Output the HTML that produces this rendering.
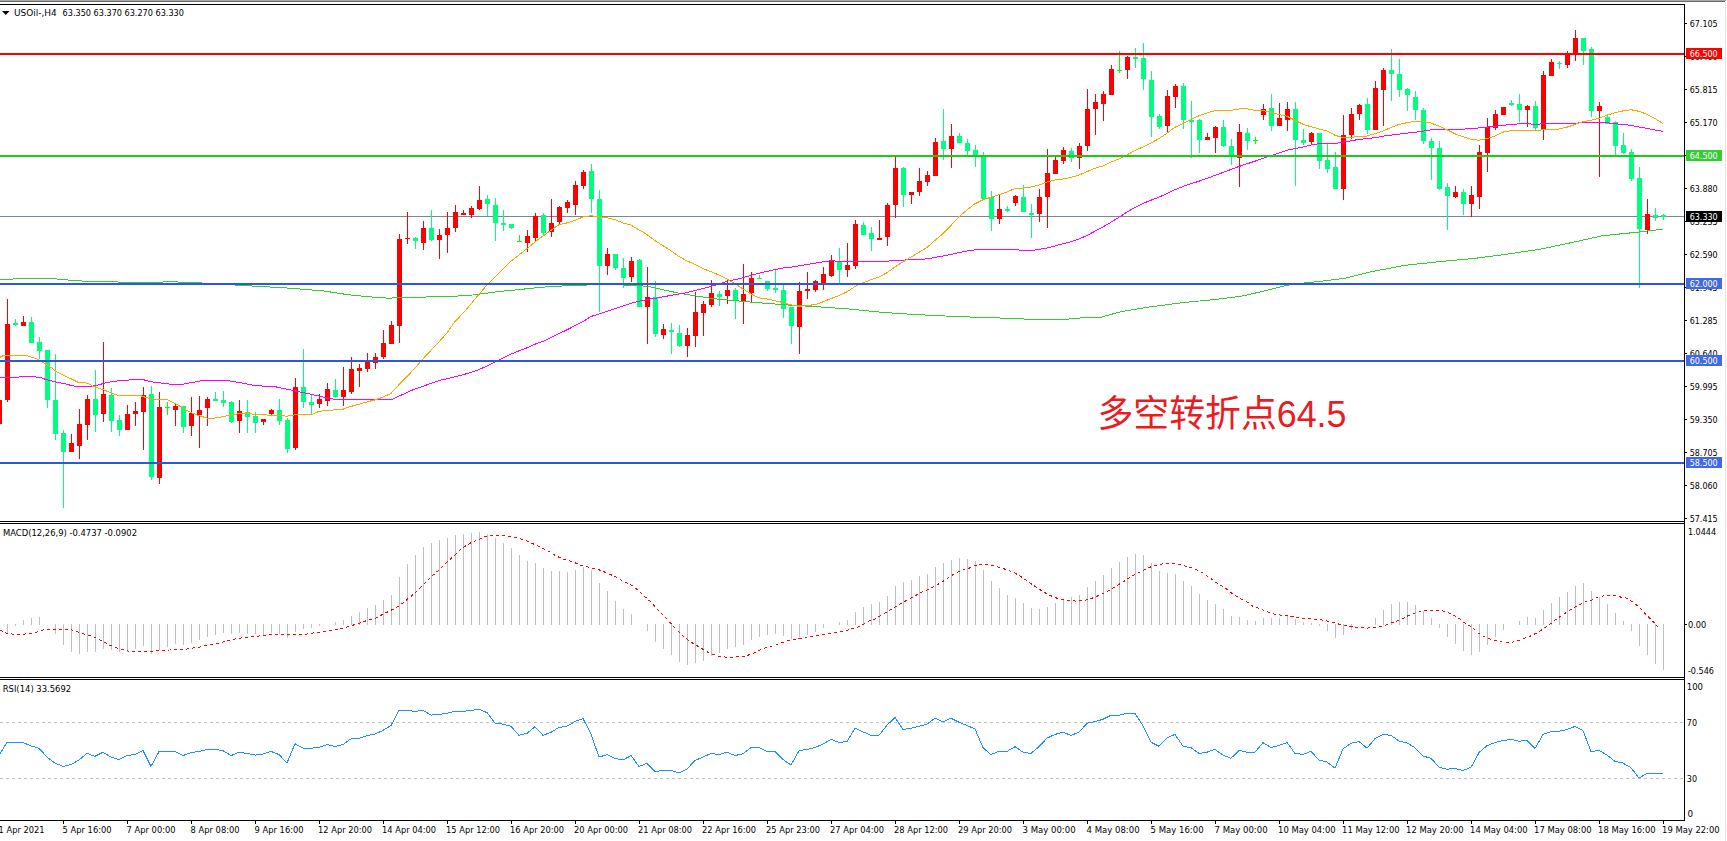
<!DOCTYPE html>
<html><head><meta charset="utf-8"><title>USOil H4</title>
<style>html,body{margin:0;padding:0;background:#fff;overflow:hidden}svg{display:block}</style>
</head><body>
<svg width="1727" height="841" viewBox="0 0 1727 841">
<rect width="1727" height="841" fill="#ffffff"/>
<rect x="0" y="0" width="1726" height="1" fill="#a8a8a8"/>
<rect x="0" y="1" width="1725" height="1" fill="#696969"/>
<rect x="1725" y="2" width="1" height="839" fill="#e3e3e3"/>
<g shape-rendering="crispEdges">
<rect x="0" y="216" width="1684" height="1" fill="#778899"/>
<rect x="-1" y="395" width="1" height="33" fill="#ff0000"/>
<rect x="-3" y="400" width="5" height="24" fill="#ff0000"/>
<rect x="7" y="299" width="1" height="103" fill="#ff0000"/>
<rect x="5" y="324" width="5" height="76" fill="#ff0000"/>
<rect x="15" y="319" width="1" height="7" fill="#00ff7f"/>
<rect x="13" y="323" width="5" height="2" fill="#00ff7f"/>
<rect x="23" y="316" width="1" height="10" fill="#ff0000"/>
<rect x="21" y="322" width="5" height="4" fill="#ff0000"/>
<rect x="31" y="317" width="1" height="26" fill="#00ff7f"/>
<rect x="29" y="322" width="5" height="21" fill="#00ff7f"/>
<rect x="39" y="337" width="1" height="22" fill="#00ff7f"/>
<rect x="37" y="342" width="5" height="9" fill="#00ff7f"/>
<rect x="47" y="350" width="1" height="58" fill="#00ff7f"/>
<rect x="45" y="350" width="5" height="50" fill="#00ff7f"/>
<rect x="55" y="354" width="1" height="86" fill="#00ff7f"/>
<rect x="53" y="400" width="5" height="34" fill="#00ff7f"/>
<rect x="63" y="430" width="1" height="78" fill="#00ff7f"/>
<rect x="61" y="433" width="5" height="19" fill="#00ff7f"/>
<rect x="71" y="434" width="1" height="18" fill="#ff0000"/>
<rect x="69" y="443" width="5" height="9" fill="#ff0000"/>
<rect x="79" y="409" width="1" height="50" fill="#ff0000"/>
<rect x="77" y="424" width="5" height="22" fill="#ff0000"/>
<rect x="87" y="395" width="1" height="45" fill="#ff0000"/>
<rect x="85" y="399" width="5" height="26" fill="#ff0000"/>
<rect x="95" y="370" width="1" height="62" fill="#00ff7f"/>
<rect x="93" y="399" width="5" height="16" fill="#00ff7f"/>
<rect x="103" y="342" width="1" height="80" fill="#ff0000"/>
<rect x="101" y="394" width="5" height="20" fill="#ff0000"/>
<rect x="111" y="388" width="1" height="44" fill="#00ff7f"/>
<rect x="109" y="395" width="5" height="26" fill="#00ff7f"/>
<rect x="119" y="415" width="1" height="21" fill="#00ff7f"/>
<rect x="117" y="420" width="5" height="10" fill="#00ff7f"/>
<rect x="127" y="405" width="1" height="25" fill="#ff0000"/>
<rect x="125" y="414" width="5" height="16" fill="#ff0000"/>
<rect x="135" y="402" width="1" height="24" fill="#ff0000"/>
<rect x="133" y="411" width="5" height="3" fill="#ff0000"/>
<rect x="143" y="387" width="1" height="63" fill="#ff0000"/>
<rect x="141" y="395" width="5" height="17" fill="#ff0000"/>
<rect x="151" y="386" width="1" height="94" fill="#00ff7f"/>
<rect x="149" y="394" width="5" height="83" fill="#00ff7f"/>
<rect x="159" y="392" width="1" height="92" fill="#ff0000"/>
<rect x="157" y="407" width="5" height="71" fill="#ff0000"/>
<rect x="167" y="402" width="1" height="13" fill="#00ff00"/>
<rect x="165" y="407" width="5" height="1" fill="#00ff00"/>
<rect x="175" y="404" width="1" height="22" fill="#ff0000"/>
<rect x="173" y="406" width="5" height="4" fill="#ff0000"/>
<rect x="183" y="406" width="1" height="27" fill="#00ff7f"/>
<rect x="181" y="406" width="5" height="21" fill="#00ff7f"/>
<rect x="191" y="397" width="1" height="39" fill="#ff0000"/>
<rect x="189" y="413" width="5" height="13" fill="#ff0000"/>
<rect x="199" y="396" width="1" height="52" fill="#ff0000"/>
<rect x="197" y="410" width="5" height="5" fill="#ff0000"/>
<rect x="207" y="397" width="1" height="29" fill="#ff0000"/>
<rect x="205" y="399" width="5" height="9" fill="#ff0000"/>
<rect x="215" y="392" width="1" height="9" fill="#00ff7f"/>
<rect x="213" y="399" width="5" height="2" fill="#00ff7f"/>
<rect x="223" y="391" width="1" height="16" fill="#00ff7f"/>
<rect x="221" y="400" width="5" height="3" fill="#00ff7f"/>
<rect x="231" y="401" width="1" height="22" fill="#00ff7f"/>
<rect x="229" y="402" width="5" height="20" fill="#00ff7f"/>
<rect x="239" y="400" width="1" height="33" fill="#ff0000"/>
<rect x="237" y="411" width="5" height="10" fill="#ff0000"/>
<rect x="247" y="400" width="1" height="33" fill="#00ff7f"/>
<rect x="245" y="412" width="5" height="5" fill="#00ff7f"/>
<rect x="255" y="412" width="1" height="21" fill="#00ff7f"/>
<rect x="253" y="416" width="5" height="7" fill="#00ff7f"/>
<rect x="263" y="419" width="1" height="6" fill="#ff0000"/>
<rect x="261" y="419" width="5" height="3" fill="#ff0000"/>
<rect x="271" y="409" width="1" height="6" fill="#ff0000"/>
<rect x="269" y="410" width="5" height="4" fill="#ff0000"/>
<rect x="279" y="399" width="1" height="26" fill="#00ff7f"/>
<rect x="277" y="410" width="5" height="11" fill="#00ff7f"/>
<rect x="287" y="418" width="1" height="35" fill="#00ff7f"/>
<rect x="285" y="420" width="5" height="29" fill="#00ff7f"/>
<rect x="295" y="378" width="1" height="72" fill="#ff0000"/>
<rect x="293" y="387" width="5" height="61" fill="#ff0000"/>
<rect x="303" y="349" width="1" height="59" fill="#00ff7f"/>
<rect x="301" y="387" width="5" height="15" fill="#00ff7f"/>
<rect x="311" y="395" width="1" height="19" fill="#00ff7f"/>
<rect x="309" y="402" width="5" height="3" fill="#00ff7f"/>
<rect x="319" y="394" width="1" height="14" fill="#ff0000"/>
<rect x="317" y="399" width="5" height="5" fill="#ff0000"/>
<rect x="327" y="383" width="1" height="23" fill="#ff0000"/>
<rect x="325" y="389" width="5" height="12" fill="#ff0000"/>
<rect x="335" y="379" width="1" height="19" fill="#00ff7f"/>
<rect x="333" y="390" width="5" height="7" fill="#00ff7f"/>
<rect x="343" y="367" width="1" height="39" fill="#ff0000"/>
<rect x="341" y="390" width="5" height="7" fill="#ff0000"/>
<rect x="351" y="357" width="1" height="37" fill="#ff0000"/>
<rect x="349" y="369" width="5" height="23" fill="#ff0000"/>
<rect x="359" y="364" width="1" height="23" fill="#ff0000"/>
<rect x="357" y="368" width="5" height="3" fill="#ff0000"/>
<rect x="367" y="353" width="1" height="19" fill="#ff0000"/>
<rect x="365" y="360" width="5" height="9" fill="#ff0000"/>
<rect x="375" y="353" width="1" height="16" fill="#ff0000"/>
<rect x="373" y="357" width="5" height="6" fill="#ff0000"/>
<rect x="383" y="330" width="1" height="29" fill="#ff0000"/>
<rect x="381" y="343" width="5" height="14" fill="#ff0000"/>
<rect x="391" y="321" width="1" height="23" fill="#ff0000"/>
<rect x="389" y="325" width="5" height="19" fill="#ff0000"/>
<rect x="399" y="234" width="1" height="109" fill="#ff0000"/>
<rect x="397" y="239" width="5" height="87" fill="#ff0000"/>
<rect x="407" y="212" width="1" height="32" fill="#ff0000"/>
<rect x="405" y="238" width="5" height="1" fill="#ff0000"/>
<rect x="415" y="237" width="1" height="12" fill="#00ff7f"/>
<rect x="413" y="238" width="5" height="3" fill="#00ff7f"/>
<rect x="423" y="221" width="1" height="29" fill="#ff0000"/>
<rect x="421" y="228" width="5" height="15" fill="#ff0000"/>
<rect x="431" y="210" width="1" height="31" fill="#00ff7f"/>
<rect x="429" y="228" width="5" height="12" fill="#00ff7f"/>
<rect x="439" y="229" width="1" height="30" fill="#ff0000"/>
<rect x="437" y="235" width="5" height="5" fill="#ff0000"/>
<rect x="447" y="212" width="1" height="41" fill="#ff0000"/>
<rect x="445" y="228" width="5" height="7" fill="#ff0000"/>
<rect x="455" y="205" width="1" height="27" fill="#ff0000"/>
<rect x="453" y="212" width="5" height="16" fill="#ff0000"/>
<rect x="463" y="210" width="1" height="5" fill="#ff0000"/>
<rect x="461" y="213" width="5" height="2" fill="#ff0000"/>
<rect x="471" y="206" width="1" height="12" fill="#ff0000"/>
<rect x="469" y="208" width="5" height="7" fill="#ff0000"/>
<rect x="479" y="186" width="1" height="24" fill="#ff0000"/>
<rect x="477" y="200" width="5" height="9" fill="#ff0000"/>
<rect x="487" y="195" width="1" height="21" fill="#00ff7f"/>
<rect x="485" y="199" width="5" height="5" fill="#00ff7f"/>
<rect x="495" y="198" width="1" height="43" fill="#00ff7f"/>
<rect x="493" y="205" width="5" height="18" fill="#00ff7f"/>
<rect x="503" y="210" width="1" height="21" fill="#00ff7f"/>
<rect x="501" y="223" width="5" height="2" fill="#00ff7f"/>
<rect x="511" y="224" width="1" height="5" fill="#00ff7f"/>
<rect x="509" y="224" width="5" height="4" fill="#00ff7f"/>
<rect x="519" y="235" width="1" height="7" fill="#00ff00"/>
<rect x="517" y="241" width="5" height="1" fill="#00ff00"/>
<rect x="527" y="230" width="1" height="22" fill="#ff0000"/>
<rect x="525" y="236" width="5" height="7" fill="#ff0000"/>
<rect x="535" y="213" width="1" height="29" fill="#ff0000"/>
<rect x="533" y="216" width="5" height="22" fill="#ff0000"/>
<rect x="543" y="213" width="1" height="23" fill="#00ff7f"/>
<rect x="541" y="215" width="5" height="18" fill="#00ff7f"/>
<rect x="551" y="199" width="1" height="38" fill="#ff0000"/>
<rect x="549" y="223" width="5" height="9" fill="#ff0000"/>
<rect x="559" y="206" width="1" height="18" fill="#ff0000"/>
<rect x="557" y="207" width="5" height="15" fill="#ff0000"/>
<rect x="567" y="200" width="1" height="13" fill="#ff0000"/>
<rect x="565" y="202" width="5" height="6" fill="#ff0000"/>
<rect x="575" y="181" width="1" height="34" fill="#ff0000"/>
<rect x="573" y="185" width="5" height="20" fill="#ff0000"/>
<rect x="583" y="170" width="1" height="19" fill="#ff0000"/>
<rect x="581" y="172" width="5" height="14" fill="#ff0000"/>
<rect x="591" y="164" width="1" height="49" fill="#00ff7f"/>
<rect x="589" y="171" width="5" height="28" fill="#00ff7f"/>
<rect x="599" y="190" width="1" height="122" fill="#00ff7f"/>
<rect x="597" y="199" width="5" height="67" fill="#00ff7f"/>
<rect x="607" y="248" width="1" height="27" fill="#ff0000"/>
<rect x="605" y="254" width="5" height="12" fill="#ff0000"/>
<rect x="615" y="254" width="1" height="16" fill="#00ff7f"/>
<rect x="613" y="254" width="5" height="14" fill="#00ff7f"/>
<rect x="623" y="258" width="1" height="30" fill="#00ff7f"/>
<rect x="621" y="268" width="5" height="10" fill="#00ff7f"/>
<rect x="631" y="257" width="1" height="25" fill="#ff0000"/>
<rect x="629" y="261" width="5" height="16" fill="#ff0000"/>
<rect x="639" y="259" width="1" height="48" fill="#00ff7f"/>
<rect x="637" y="260" width="5" height="47" fill="#00ff7f"/>
<rect x="647" y="267" width="1" height="77" fill="#ff0000"/>
<rect x="645" y="297" width="5" height="10" fill="#ff0000"/>
<rect x="655" y="281" width="1" height="56" fill="#00ff7f"/>
<rect x="653" y="297" width="5" height="37" fill="#00ff7f"/>
<rect x="663" y="324" width="1" height="15" fill="#ff0000"/>
<rect x="661" y="329" width="5" height="6" fill="#ff0000"/>
<rect x="671" y="323" width="1" height="31" fill="#00ff7f"/>
<rect x="669" y="330" width="5" height="2" fill="#00ff7f"/>
<rect x="679" y="325" width="1" height="22" fill="#00ff7f"/>
<rect x="677" y="333" width="5" height="13" fill="#00ff7f"/>
<rect x="687" y="328" width="1" height="29" fill="#ff0000"/>
<rect x="685" y="335" width="5" height="11" fill="#ff0000"/>
<rect x="695" y="292" width="1" height="55" fill="#ff0000"/>
<rect x="693" y="312" width="5" height="24" fill="#ff0000"/>
<rect x="703" y="301" width="1" height="35" fill="#ff0000"/>
<rect x="701" y="304" width="5" height="9" fill="#ff0000"/>
<rect x="711" y="280" width="1" height="27" fill="#ff0000"/>
<rect x="709" y="293" width="5" height="12" fill="#ff0000"/>
<rect x="719" y="291" width="1" height="15" fill="#00ff7f"/>
<rect x="717" y="294" width="5" height="3" fill="#00ff7f"/>
<rect x="727" y="280" width="1" height="24" fill="#ff0000"/>
<rect x="725" y="290" width="5" height="6" fill="#ff0000"/>
<rect x="735" y="288" width="1" height="31" fill="#00ff7f"/>
<rect x="733" y="290" width="5" height="10" fill="#00ff7f"/>
<rect x="743" y="264" width="1" height="60" fill="#ff0000"/>
<rect x="741" y="294" width="5" height="7" fill="#ff0000"/>
<rect x="751" y="272" width="1" height="30" fill="#ff0000"/>
<rect x="749" y="278" width="5" height="15" fill="#ff0000"/>
<rect x="759" y="275" width="1" height="4" fill="#00ff7f"/>
<rect x="757" y="278" width="5" height="1" fill="#00ff7f"/>
<rect x="767" y="281" width="1" height="10" fill="#00ff7f"/>
<rect x="765" y="281" width="5" height="8" fill="#00ff7f"/>
<rect x="775" y="270" width="1" height="23" fill="#00ff7f"/>
<rect x="773" y="288" width="5" height="2" fill="#00ff7f"/>
<rect x="783" y="285" width="1" height="33" fill="#00ff7f"/>
<rect x="781" y="290" width="5" height="19" fill="#00ff7f"/>
<rect x="791" y="307" width="1" height="37" fill="#00ff7f"/>
<rect x="789" y="307" width="5" height="19" fill="#00ff7f"/>
<rect x="799" y="282" width="1" height="72" fill="#ff0000"/>
<rect x="797" y="291" width="5" height="36" fill="#ff0000"/>
<rect x="807" y="272" width="1" height="27" fill="#ff0000"/>
<rect x="805" y="289" width="5" height="2" fill="#ff0000"/>
<rect x="815" y="280" width="1" height="12" fill="#ff0000"/>
<rect x="813" y="281" width="5" height="9" fill="#ff0000"/>
<rect x="823" y="267" width="1" height="23" fill="#ff0000"/>
<rect x="821" y="274" width="5" height="9" fill="#ff0000"/>
<rect x="831" y="255" width="1" height="22" fill="#ff0000"/>
<rect x="829" y="261" width="5" height="15" fill="#ff0000"/>
<rect x="839" y="248" width="1" height="35" fill="#00ff7f"/>
<rect x="837" y="261" width="5" height="9" fill="#00ff7f"/>
<rect x="847" y="243" width="1" height="34" fill="#ff0000"/>
<rect x="845" y="265" width="5" height="5" fill="#ff0000"/>
<rect x="855" y="220" width="1" height="49" fill="#ff0000"/>
<rect x="853" y="224" width="5" height="42" fill="#ff0000"/>
<rect x="863" y="222" width="1" height="13" fill="#00ff7f"/>
<rect x="861" y="225" width="5" height="10" fill="#00ff7f"/>
<rect x="871" y="227" width="1" height="24" fill="#00ff7f"/>
<rect x="869" y="233" width="5" height="6" fill="#00ff7f"/>
<rect x="879" y="220" width="1" height="20" fill="#ff0000"/>
<rect x="877" y="238" width="5" height="2" fill="#ff0000"/>
<rect x="887" y="203" width="1" height="43" fill="#ff0000"/>
<rect x="885" y="205" width="5" height="32" fill="#ff0000"/>
<rect x="895" y="157" width="1" height="61" fill="#ff0000"/>
<rect x="893" y="168" width="5" height="37" fill="#ff0000"/>
<rect x="903" y="167" width="1" height="40" fill="#00ff7f"/>
<rect x="901" y="168" width="5" height="27" fill="#00ff7f"/>
<rect x="911" y="192" width="1" height="12" fill="#ff0000"/>
<rect x="909" y="192" width="5" height="3" fill="#ff0000"/>
<rect x="919" y="168" width="1" height="28" fill="#ff0000"/>
<rect x="917" y="181" width="5" height="11" fill="#ff0000"/>
<rect x="927" y="171" width="1" height="15" fill="#ff0000"/>
<rect x="925" y="175" width="5" height="7" fill="#ff0000"/>
<rect x="935" y="138" width="1" height="38" fill="#ff0000"/>
<rect x="933" y="142" width="5" height="34" fill="#ff0000"/>
<rect x="943" y="109" width="1" height="51" fill="#00ff7f"/>
<rect x="941" y="141" width="5" height="8" fill="#00ff7f"/>
<rect x="951" y="124" width="1" height="44" fill="#ff0000"/>
<rect x="949" y="136" width="5" height="13" fill="#ff0000"/>
<rect x="959" y="133" width="1" height="10" fill="#00ff7f"/>
<rect x="957" y="136" width="5" height="7" fill="#00ff7f"/>
<rect x="967" y="139" width="1" height="16" fill="#00ff7f"/>
<rect x="965" y="143" width="5" height="8" fill="#00ff7f"/>
<rect x="975" y="145" width="1" height="22" fill="#00ff7f"/>
<rect x="973" y="150" width="5" height="6" fill="#00ff7f"/>
<rect x="983" y="152" width="1" height="47" fill="#00ff7f"/>
<rect x="981" y="155" width="5" height="44" fill="#00ff7f"/>
<rect x="991" y="191" width="1" height="40" fill="#00ff7f"/>
<rect x="989" y="197" width="5" height="22" fill="#00ff7f"/>
<rect x="999" y="194" width="1" height="30" fill="#ff0000"/>
<rect x="997" y="209" width="5" height="10" fill="#ff0000"/>
<rect x="1007" y="206" width="1" height="6" fill="#00ff7f"/>
<rect x="1005" y="209" width="5" height="2" fill="#00ff7f"/>
<rect x="1015" y="195" width="1" height="11" fill="#ff0000"/>
<rect x="1013" y="196" width="5" height="7" fill="#ff0000"/>
<rect x="1023" y="185" width="1" height="27" fill="#00ff7f"/>
<rect x="1021" y="197" width="5" height="15" fill="#00ff7f"/>
<rect x="1031" y="204" width="1" height="34" fill="#00ff7f"/>
<rect x="1029" y="213" width="5" height="2" fill="#00ff7f"/>
<rect x="1039" y="189" width="1" height="33" fill="#ff0000"/>
<rect x="1037" y="197" width="5" height="17" fill="#ff0000"/>
<rect x="1047" y="149" width="1" height="79" fill="#ff0000"/>
<rect x="1045" y="173" width="5" height="24" fill="#ff0000"/>
<rect x="1055" y="157" width="1" height="17" fill="#ff0000"/>
<rect x="1053" y="160" width="5" height="14" fill="#ff0000"/>
<rect x="1063" y="147" width="1" height="17" fill="#ff0000"/>
<rect x="1061" y="150" width="5" height="11" fill="#ff0000"/>
<rect x="1071" y="148" width="1" height="14" fill="#00ff7f"/>
<rect x="1069" y="151" width="5" height="7" fill="#00ff7f"/>
<rect x="1079" y="143" width="1" height="26" fill="#ff0000"/>
<rect x="1077" y="146" width="5" height="12" fill="#ff0000"/>
<rect x="1087" y="89" width="1" height="62" fill="#ff0000"/>
<rect x="1085" y="109" width="5" height="37" fill="#ff0000"/>
<rect x="1095" y="94" width="1" height="41" fill="#ff0000"/>
<rect x="1093" y="102" width="5" height="7" fill="#ff0000"/>
<rect x="1103" y="91" width="1" height="30" fill="#ff0000"/>
<rect x="1101" y="94" width="5" height="10" fill="#ff0000"/>
<rect x="1111" y="65" width="1" height="30" fill="#ff0000"/>
<rect x="1109" y="69" width="5" height="26" fill="#ff0000"/>
<rect x="1119" y="51" width="1" height="22" fill="#00ff00"/>
<rect x="1117" y="70" width="5" height="1" fill="#00ff00"/>
<rect x="1127" y="56" width="1" height="23" fill="#ff0000"/>
<rect x="1125" y="57" width="5" height="13" fill="#ff0000"/>
<rect x="1135" y="48" width="1" height="20" fill="#00ff7f"/>
<rect x="1133" y="57" width="5" height="2" fill="#00ff7f"/>
<rect x="1143" y="43" width="1" height="47" fill="#00ff7f"/>
<rect x="1141" y="58" width="5" height="21" fill="#00ff7f"/>
<rect x="1151" y="71" width="1" height="66" fill="#00ff7f"/>
<rect x="1149" y="80" width="5" height="37" fill="#00ff7f"/>
<rect x="1159" y="114" width="1" height="15" fill="#00ff7f"/>
<rect x="1157" y="116" width="5" height="11" fill="#00ff7f"/>
<rect x="1167" y="90" width="1" height="43" fill="#ff0000"/>
<rect x="1165" y="96" width="5" height="30" fill="#ff0000"/>
<rect x="1175" y="84" width="1" height="24" fill="#ff0000"/>
<rect x="1173" y="86" width="5" height="11" fill="#ff0000"/>
<rect x="1183" y="83" width="1" height="46" fill="#00ff7f"/>
<rect x="1181" y="86" width="5" height="34" fill="#00ff7f"/>
<rect x="1191" y="101" width="1" height="57" fill="#00ff7f"/>
<rect x="1189" y="120" width="5" height="2" fill="#00ff7f"/>
<rect x="1199" y="119" width="1" height="34" fill="#00ff7f"/>
<rect x="1197" y="120" width="5" height="20" fill="#00ff7f"/>
<rect x="1207" y="133" width="1" height="7" fill="#ff0000"/>
<rect x="1205" y="137" width="5" height="3" fill="#ff0000"/>
<rect x="1215" y="126" width="1" height="27" fill="#ff0000"/>
<rect x="1213" y="127" width="5" height="11" fill="#ff0000"/>
<rect x="1223" y="120" width="1" height="27" fill="#00ff7f"/>
<rect x="1221" y="127" width="5" height="19" fill="#00ff7f"/>
<rect x="1231" y="139" width="1" height="26" fill="#00ff7f"/>
<rect x="1229" y="146" width="5" height="9" fill="#00ff7f"/>
<rect x="1239" y="124" width="1" height="63" fill="#ff0000"/>
<rect x="1237" y="132" width="5" height="26" fill="#ff0000"/>
<rect x="1247" y="128" width="1" height="22" fill="#00ff7f"/>
<rect x="1245" y="133" width="5" height="8" fill="#00ff7f"/>
<rect x="1255" y="137" width="1" height="7" fill="#00ff00"/>
<rect x="1253" y="140" width="5" height="1" fill="#00ff00"/>
<rect x="1263" y="104" width="1" height="16" fill="#ff0000"/>
<rect x="1261" y="109" width="5" height="6" fill="#ff0000"/>
<rect x="1271" y="94" width="1" height="37" fill="#00ff7f"/>
<rect x="1269" y="108" width="5" height="18" fill="#00ff7f"/>
<rect x="1279" y="103" width="1" height="23" fill="#ff0000"/>
<rect x="1277" y="118" width="5" height="8" fill="#ff0000"/>
<rect x="1287" y="102" width="1" height="29" fill="#ff0000"/>
<rect x="1285" y="109" width="5" height="11" fill="#ff0000"/>
<rect x="1295" y="102" width="1" height="84" fill="#00ff7f"/>
<rect x="1293" y="109" width="5" height="31" fill="#00ff7f"/>
<rect x="1303" y="129" width="1" height="16" fill="#00ff7f"/>
<rect x="1301" y="140" width="5" height="3" fill="#00ff7f"/>
<rect x="1311" y="132" width="1" height="12" fill="#ff0000"/>
<rect x="1309" y="133" width="5" height="9" fill="#ff0000"/>
<rect x="1319" y="133" width="1" height="36" fill="#00ff7f"/>
<rect x="1317" y="133" width="5" height="28" fill="#00ff7f"/>
<rect x="1327" y="144" width="1" height="29" fill="#00ff7f"/>
<rect x="1325" y="160" width="5" height="9" fill="#00ff7f"/>
<rect x="1335" y="152" width="1" height="37" fill="#00ff7f"/>
<rect x="1333" y="167" width="5" height="22" fill="#00ff7f"/>
<rect x="1343" y="115" width="1" height="85" fill="#ff0000"/>
<rect x="1341" y="135" width="5" height="54" fill="#ff0000"/>
<rect x="1351" y="108" width="1" height="31" fill="#ff0000"/>
<rect x="1349" y="114" width="5" height="21" fill="#ff0000"/>
<rect x="1359" y="104" width="1" height="16" fill="#ff0000"/>
<rect x="1357" y="105" width="5" height="9" fill="#ff0000"/>
<rect x="1367" y="98" width="1" height="36" fill="#00ff7f"/>
<rect x="1365" y="104" width="5" height="26" fill="#00ff7f"/>
<rect x="1375" y="81" width="1" height="49" fill="#ff0000"/>
<rect x="1373" y="88" width="5" height="42" fill="#ff0000"/>
<rect x="1383" y="68" width="1" height="58" fill="#ff0000"/>
<rect x="1381" y="70" width="5" height="20" fill="#ff0000"/>
<rect x="1391" y="49" width="1" height="52" fill="#00ff7f"/>
<rect x="1389" y="70" width="5" height="4" fill="#00ff7f"/>
<rect x="1399" y="59" width="1" height="38" fill="#00ff7f"/>
<rect x="1397" y="74" width="5" height="16" fill="#00ff7f"/>
<rect x="1407" y="88" width="1" height="23" fill="#00ff7f"/>
<rect x="1405" y="89" width="5" height="6" fill="#00ff7f"/>
<rect x="1415" y="91" width="1" height="29" fill="#00ff7f"/>
<rect x="1413" y="97" width="5" height="13" fill="#00ff7f"/>
<rect x="1423" y="108" width="1" height="36" fill="#00ff7f"/>
<rect x="1421" y="110" width="5" height="31" fill="#00ff7f"/>
<rect x="1431" y="138" width="1" height="42" fill="#00ff7f"/>
<rect x="1429" y="141" width="5" height="7" fill="#00ff7f"/>
<rect x="1439" y="141" width="1" height="49" fill="#00ff7f"/>
<rect x="1437" y="148" width="5" height="41" fill="#00ff7f"/>
<rect x="1447" y="183" width="1" height="47" fill="#00ff7f"/>
<rect x="1445" y="187" width="5" height="9" fill="#00ff7f"/>
<rect x="1455" y="186" width="1" height="12" fill="#ff0000"/>
<rect x="1453" y="192" width="5" height="5" fill="#ff0000"/>
<rect x="1463" y="189" width="1" height="26" fill="#00ff7f"/>
<rect x="1461" y="192" width="5" height="12" fill="#00ff7f"/>
<rect x="1471" y="186" width="1" height="31" fill="#ff0000"/>
<rect x="1469" y="195" width="5" height="9" fill="#ff0000"/>
<rect x="1479" y="145" width="1" height="64" fill="#ff0000"/>
<rect x="1477" y="152" width="5" height="45" fill="#ff0000"/>
<rect x="1487" y="118" width="1" height="54" fill="#ff0000"/>
<rect x="1485" y="127" width="5" height="26" fill="#ff0000"/>
<rect x="1495" y="110" width="1" height="20" fill="#ff0000"/>
<rect x="1493" y="114" width="5" height="14" fill="#ff0000"/>
<rect x="1503" y="107" width="1" height="8" fill="#ff0000"/>
<rect x="1501" y="107" width="5" height="8" fill="#ff0000"/>
<rect x="1511" y="100" width="1" height="6" fill="#00ff7f"/>
<rect x="1509" y="103" width="5" height="2" fill="#00ff7f"/>
<rect x="1519" y="94" width="1" height="28" fill="#00ff7f"/>
<rect x="1517" y="104" width="5" height="6" fill="#00ff7f"/>
<rect x="1527" y="105" width="1" height="22" fill="#ff0000"/>
<rect x="1525" y="106" width="5" height="4" fill="#ff0000"/>
<rect x="1535" y="101" width="1" height="29" fill="#00ff7f"/>
<rect x="1533" y="106" width="5" height="22" fill="#00ff7f"/>
<rect x="1543" y="71" width="1" height="69" fill="#ff0000"/>
<rect x="1541" y="75" width="5" height="54" fill="#ff0000"/>
<rect x="1551" y="59" width="1" height="17" fill="#ff0000"/>
<rect x="1549" y="62" width="5" height="14" fill="#ff0000"/>
<rect x="1559" y="61" width="1" height="8" fill="#00ff7f"/>
<rect x="1557" y="63" width="5" height="1" fill="#00ff7f"/>
<rect x="1567" y="51" width="1" height="17" fill="#ff0000"/>
<rect x="1565" y="53" width="5" height="12" fill="#ff0000"/>
<rect x="1575" y="30" width="1" height="31" fill="#ff0000"/>
<rect x="1573" y="38" width="5" height="16" fill="#ff0000"/>
<rect x="1583" y="38" width="1" height="27" fill="#00ff7f"/>
<rect x="1581" y="38" width="5" height="13" fill="#00ff7f"/>
<rect x="1591" y="47" width="1" height="70" fill="#00ff7f"/>
<rect x="1589" y="49" width="5" height="62" fill="#00ff7f"/>
<rect x="1599" y="102" width="1" height="75" fill="#ff0000"/>
<rect x="1597" y="106" width="5" height="5" fill="#ff0000"/>
<rect x="1607" y="114" width="1" height="10" fill="#00ff7f"/>
<rect x="1605" y="117" width="5" height="7" fill="#00ff7f"/>
<rect x="1615" y="121" width="1" height="34" fill="#00ff7f"/>
<rect x="1613" y="122" width="5" height="24" fill="#00ff7f"/>
<rect x="1623" y="133" width="1" height="21" fill="#00ff7f"/>
<rect x="1621" y="145" width="5" height="8" fill="#00ff7f"/>
<rect x="1631" y="149" width="1" height="32" fill="#00ff7f"/>
<rect x="1629" y="152" width="5" height="27" fill="#00ff7f"/>
<rect x="1639" y="167" width="1" height="121" fill="#00ff7f"/>
<rect x="1637" y="178" width="5" height="51" fill="#00ff7f"/>
<rect x="1647" y="199" width="1" height="35" fill="#ff0000"/>
<rect x="1645" y="214" width="5" height="16" fill="#ff0000"/>
<rect x="1655" y="208" width="1" height="13" fill="#00ff7f"/>
<rect x="1653" y="215" width="5" height="3" fill="#00ff7f"/>
<rect x="1663" y="214" width="1" height="6" fill="#00ff7f"/>
<rect x="1661" y="215" width="5" height="2" fill="#00ff7f"/>
</g>
<g shape-rendering="crispEdges" fill="none" stroke-width="1">
<polyline points="0.0,279.6 27.6,278.3 52.0,278.6 68.0,280.0 84.3,281.2 100.5,281.9 147.5,282.2 171.9,281.9 188.0,282.2 212.0,283.6 236.7,285.1 259.4,286.4 291.8,288.3 324.0,291.0 348.6,294.8 372.9,297.1 388.5,298.2 398.8,297.7 434.5,296.8 467.0,295.7 484.5,293.5 498.4,291.6 518.8,289.6 542.0,287.2 560.0,286.1 579.0,285.2 600.0,284.7 620.0,284.8 647.0,286.2 679.4,293.3 711.9,298.5 747.5,301.8 783.2,304.7 815.6,306.6 848.0,308.9 880.5,312.2 912.9,314.4 945.3,316.0 977.7,317.3 1010.0,318.3 1036.0,319.6 1065.3,319.3 1080.0,318.0 1100.5,317.4 1121.0,311.6 1148.3,307.1 1182.5,302.7 1216.7,299.3 1244.0,295.8 1268.0,290.0 1291.8,284.2 1319.0,281.5 1346.5,278.0 1370.4,271.9 1404.6,265.4 1438.7,261.7 1472.9,258.6 1507.0,254.2 1541.2,249.0 1568.6,243.2 1602.7,235.7 1633.5,232.6 1662.5,229.2" stroke="#32cd32"/>
<polyline points="0.0,377.5 18.3,377.5 20.0,376.4 35.0,376.4 36.6,377.5 41.6,377.5 42.5,378.5 50.0,380.4 58.3,382.5 66.6,384.1 70.8,385.4 76.6,386.5 90.8,386.5 95.8,385.6 104.1,383.3 112.4,381.4 123.2,380.4 140.0,379.3 142.8,379.5 150.4,381.7 173.3,384.6 182.8,384.2 203.7,380.4 226.5,380.4 238.0,382.3 256.0,385.7 262.0,386.0 276.5,387.0 290.8,390.0 305.0,393.0 319.0,396.0 328.0,398.5 340.8,399.7 362.0,399.7 370.0,399.6 391.4,399.6 412.8,389.9 439.0,380.5 447.0,378.8 455.0,376.7 463.0,374.8 471.0,372.3 479.0,369.6 487.0,366.0 495.0,362.2 503.0,358.0 511.0,354.1 519.0,350.8 527.0,347.8 535.0,344.2 543.0,341.3 551.0,337.7 559.0,333.6 567.0,329.8 575.0,325.6 583.0,321.6 591.0,316.5 599.0,314.0 607.0,311.2 615.0,308.7 623.0,306.0 631.0,303.2 639.0,301.3 647.0,299.5 655.0,298.3 663.0,296.9 671.0,295.3 679.0,294.1 687.0,292.6 695.0,290.6 703.0,288.5 711.0,286.4 719.0,284.1 727.0,281.2 735.0,279.7 743.0,277.7 751.0,275.4 759.0,273.2 767.0,271.4 775.0,269.5 783.0,268.0 791.0,267.2 799.0,265.8 807.0,264.5 815.0,263.1 823.0,261.9 831.0,260.7 839.0,261.3 847.0,261.8 855.0,261.5 863.0,261.6 871.0,261.6 879.0,261.6 887.0,261.2 895.0,260.4 903.0,260.1 911.0,259.8 919.0,259.4 927.0,258.9 935.0,257.4 943.0,256.0 951.0,254.4 959.0,252.6 967.0,251.0 975.0,249.9 983.0,249.3 991.0,249.2 999.0,249.3 1007.0,249.5 1015.0,249.7 1023.0,250.4 1031.0,250.7 1039.0,249.4 1047.0,248.0 1055.0,246.0 1063.0,243.7 1071.0,241.8 1079.0,238.9 1087.0,235.5 1095.0,231.2 1103.0,227.0 1111.0,222.2 1119.0,217.2 1127.0,212.1 1135.0,207.5 1143.0,203.4 1151.0,200.2 1159.0,197.1 1167.0,193.6 1175.0,189.7 1183.0,186.5 1191.0,183.7 1199.0,181.2 1207.0,178.4 1215.0,175.4 1223.0,172.5 1231.0,169.4 1239.0,166.5 1247.0,163.8 1255.0,161.2 1263.0,158.2 1271.0,155.8 1279.0,153.0 1287.0,150.2 1295.0,148.6 1303.0,147.0 1311.0,145.0 1319.0,143.6 1327.0,143.0 1335.0,143.4 1343.0,142.3 1351.0,140.8 1359.0,139.4 1367.0,138.6 1375.0,137.7 1383.0,136.2 1391.0,135.1 1399.0,134.1 1407.0,133.1 1415.0,132.3 1423.0,131.2 1431.0,129.9 1439.0,129.6 1447.0,129.3 1455.0,129.2 1463.0,129.1 1471.0,128.7 1479.0,127.9 1487.0,127.1 1495.0,126.2 1503.0,125.4 1511.0,124.5 1519.0,123.8 1527.0,123.8 1535.0,124.2 1543.0,123.9 1551.0,123.8 1559.0,123.6 1567.0,123.6 1575.0,123.2 1583.0,122.7 1591.0,122.6 1599.0,122.2 1607.0,122.7 1615.0,123.8 1623.0,124.4 1631.0,125.4 1639.0,127.0 1647.0,128.4 1655.0,130.1 1663.0,131.4" stroke="#ff00ff"/>
<polyline points="0.0,357.5 1.7,356.2 5.0,355.4 25.0,355.4 29.0,356.2 37.5,359.2 41.6,361.8 46.6,364.6 51.6,367.9 55.8,371.2 62.4,374.6 70.8,378.7 77.4,382.0 88.3,383.3 92.4,386.2 99.9,388.7 108.2,391.6 116.6,395.0 124.9,395.4 137.0,395.4 139.0,395.2 150.4,398.9 167.0,399.4 175.0,403.3 183.0,408.2 191.0,412.5 199.0,415.7 207.0,418.0 215.0,418.0 223.0,416.6 231.0,415.1 239.0,413.6 247.0,413.3 255.0,414.4 263.0,414.6 271.0,415.4 279.0,415.3 287.0,416.2 295.0,414.9 303.0,414.5 311.0,415.0 319.0,411.3 327.0,410.4 335.0,409.9 343.0,409.2 351.0,406.4 359.0,404.3 367.0,401.9 375.0,399.9 383.0,397.1 391.0,393.4 399.0,384.7 407.0,376.5 415.0,368.1 423.0,358.8 431.0,350.3 439.0,341.9 447.0,332.8 455.0,321.5 463.0,313.2 471.0,304.0 479.0,294.2 487.0,284.9 495.0,277.1 503.0,268.8 511.0,261.1 519.0,255.0 527.0,248.7 535.0,241.9 543.0,236.0 551.0,230.3 559.0,224.6 567.0,222.9 575.0,220.3 583.0,217.0 591.0,215.7 599.0,216.9 607.0,217.8 615.0,219.7 623.0,222.9 631.0,225.1 639.0,229.9 647.0,234.5 655.0,240.6 663.0,245.7 671.0,250.8 679.0,256.5 687.0,260.9 695.0,264.5 703.0,268.7 711.0,271.6 719.0,275.1 727.0,279.1 735.0,283.7 743.0,288.9 751.0,294.0 759.0,297.8 767.0,299.0 775.0,300.7 783.0,302.6 791.0,304.9 799.0,306.3 807.0,305.4 815.0,304.7 823.0,301.8 831.0,298.6 839.0,295.6 847.0,291.8 855.0,286.5 863.0,282.8 871.0,279.7 879.0,277.1 887.0,272.7 895.0,266.9 903.0,261.9 911.0,257.0 919.0,252.4 927.0,247.4 935.0,240.4 943.0,233.7 951.0,225.4 959.0,216.7 967.0,210.0 975.0,203.7 983.0,199.8 991.0,197.2 999.0,194.7 1007.0,191.9 1015.0,188.6 1023.0,188.1 1031.0,187.1 1039.0,185.1 1047.0,182.0 1055.0,179.9 1063.0,179.0 1071.0,177.3 1079.0,175.1 1087.0,171.7 1095.0,168.2 1103.0,165.9 1111.0,162.1 1119.0,159.0 1127.0,154.9 1135.0,150.5 1143.0,146.9 1151.0,143.0 1159.0,138.6 1167.0,133.2 1175.0,127.2 1183.0,123.6 1191.0,119.3 1199.0,115.8 1207.0,112.9 1215.0,110.7 1223.0,110.0 1231.0,110.3 1239.0,109.0 1247.0,108.8 1255.0,110.3 1263.0,110.6 1271.0,112.1 1279.0,114.5 1287.0,116.3 1295.0,120.3 1303.0,124.3 1311.0,126.8 1319.0,128.9 1327.0,130.9 1335.0,135.3 1343.0,137.6 1351.0,137.3 1359.0,136.5 1367.0,136.0 1375.0,133.7 1383.0,131.0 1391.0,127.5 1399.0,124.4 1407.0,122.7 1415.0,121.2 1423.0,121.3 1431.0,123.1 1439.0,126.1 1447.0,129.8 1455.0,133.8 1463.0,136.8 1471.0,139.3 1479.0,140.2 1487.0,138.6 1495.0,136.0 1503.0,132.1 1511.0,130.7 1519.0,130.5 1527.0,130.6 1535.0,130.5 1543.0,129.8 1551.0,129.5 1559.0,129.0 1567.0,127.2 1575.0,124.5 1583.0,121.7 1591.0,120.3 1599.0,118.3 1607.0,115.2 1615.0,112.8 1623.0,110.9 1631.0,109.7 1639.0,111.3 1647.0,114.3 1655.0,118.6 1663.0,123.5" stroke="#ffa500"/>
</g>
<g shape-rendering="crispEdges">
<rect x="0" y="53" width="1684" height="2" fill="#ff0000"/>
<rect x="0" y="155" width="1684" height="2" fill="#1ec81e"/>
<rect x="0" y="283" width="1684" height="2" fill="#2b58dc"/>
<rect x="0" y="360" width="1684" height="2" fill="#2b58dc"/>
<rect x="0" y="462" width="1684" height="2" fill="#2b58dc"/>
</g>
<g shape-rendering="crispEdges" fill="#c0c0c0">
<rect x="7" y="624" width="1" height="9"/>
<rect x="15" y="624" width="1" height="2"/>
<rect x="23" y="620" width="1" height="5"/>
<rect x="31" y="618" width="1" height="7"/>
<rect x="39" y="617" width="1" height="8"/>
<rect x="55" y="624" width="1" height="10"/>
<rect x="63" y="624" width="1" height="21"/>
<rect x="71" y="624" width="1" height="28"/>
<rect x="79" y="624" width="1" height="30"/>
<rect x="87" y="624" width="1" height="28"/>
<rect x="95" y="624" width="1" height="28"/>
<rect x="103" y="624" width="1" height="25"/>
<rect x="111" y="624" width="1" height="26"/>
<rect x="119" y="624" width="1" height="28"/>
<rect x="127" y="624" width="1" height="28"/>
<rect x="135" y="624" width="1" height="25"/>
<rect x="143" y="624" width="1" height="22"/>
<rect x="151" y="624" width="1" height="30"/>
<rect x="159" y="624" width="1" height="26"/>
<rect x="167" y="624" width="1" height="23"/>
<rect x="175" y="624" width="1" height="20"/>
<rect x="183" y="624" width="1" height="21"/>
<rect x="191" y="624" width="1" height="19"/>
<rect x="199" y="624" width="1" height="16"/>
<rect x="207" y="624" width="1" height="13"/>
<rect x="215" y="624" width="1" height="11"/>
<rect x="223" y="624" width="1" height="9"/>
<rect x="231" y="624" width="1" height="10"/>
<rect x="239" y="624" width="1" height="9"/>
<rect x="247" y="624" width="1" height="10"/>
<rect x="255" y="624" width="1" height="10"/>
<rect x="263" y="624" width="1" height="11"/>
<rect x="271" y="624" width="1" height="9"/>
<rect x="279" y="624" width="1" height="10"/>
<rect x="287" y="624" width="1" height="14"/>
<rect x="295" y="624" width="1" height="8"/>
<rect x="303" y="624" width="1" height="5"/>
<rect x="311" y="624" width="1" height="4"/>
<rect x="319" y="624" width="1" height="2"/>
<rect x="335" y="622" width="1" height="3"/>
<rect x="343" y="620" width="1" height="5"/>
<rect x="351" y="616" width="1" height="9"/>
<rect x="359" y="612" width="1" height="13"/>
<rect x="367" y="608" width="1" height="17"/>
<rect x="375" y="605" width="1" height="20"/>
<rect x="383" y="600" width="1" height="25"/>
<rect x="391" y="595" width="1" height="30"/>
<rect x="399" y="577" width="1" height="48"/>
<rect x="407" y="564" width="1" height="61"/>
<rect x="415" y="555" width="1" height="70"/>
<rect x="423" y="547" width="1" height="78"/>
<rect x="431" y="543" width="1" height="82"/>
<rect x="439" y="540" width="1" height="85"/>
<rect x="447" y="538" width="1" height="87"/>
<rect x="455" y="535" width="1" height="90"/>
<rect x="463" y="534" width="1" height="91"/>
<rect x="471" y="533" width="1" height="92"/>
<rect x="479" y="532" width="1" height="93"/>
<rect x="487" y="534" width="1" height="91"/>
<rect x="495" y="538" width="1" height="87"/>
<rect x="503" y="543" width="1" height="82"/>
<rect x="511" y="548" width="1" height="77"/>
<rect x="519" y="555" width="1" height="70"/>
<rect x="527" y="561" width="1" height="64"/>
<rect x="535" y="563" width="1" height="62"/>
<rect x="543" y="568" width="1" height="57"/>
<rect x="551" y="571" width="1" height="54"/>
<rect x="559" y="571" width="1" height="54"/>
<rect x="567" y="572" width="1" height="53"/>
<rect x="575" y="570" width="1" height="55"/>
<rect x="583" y="567" width="1" height="58"/>
<rect x="591" y="570" width="1" height="55"/>
<rect x="599" y="583" width="1" height="42"/>
<rect x="607" y="591" width="1" height="34"/>
<rect x="615" y="601" width="1" height="24"/>
<rect x="623" y="609" width="1" height="16"/>
<rect x="631" y="614" width="1" height="11"/>
<rect x="647" y="624" width="1" height="7"/>
<rect x="655" y="624" width="1" height="18"/>
<rect x="663" y="624" width="1" height="25"/>
<rect x="671" y="624" width="1" height="31"/>
<rect x="679" y="624" width="1" height="38"/>
<rect x="687" y="624" width="1" height="41"/>
<rect x="695" y="624" width="1" height="39"/>
<rect x="703" y="624" width="1" height="37"/>
<rect x="711" y="624" width="1" height="32"/>
<rect x="719" y="624" width="1" height="29"/>
<rect x="727" y="624" width="1" height="25"/>
<rect x="735" y="624" width="1" height="23"/>
<rect x="743" y="624" width="1" height="21"/>
<rect x="751" y="624" width="1" height="16"/>
<rect x="759" y="624" width="1" height="13"/>
<rect x="767" y="624" width="1" height="11"/>
<rect x="775" y="624" width="1" height="10"/>
<rect x="783" y="624" width="1" height="12"/>
<rect x="791" y="624" width="1" height="15"/>
<rect x="799" y="624" width="1" height="13"/>
<rect x="807" y="624" width="1" height="11"/>
<rect x="815" y="624" width="1" height="8"/>
<rect x="823" y="624" width="1" height="4"/>
<rect x="839" y="622" width="1" height="3"/>
<rect x="847" y="620" width="1" height="5"/>
<rect x="855" y="612" width="1" height="13"/>
<rect x="863" y="607" width="1" height="18"/>
<rect x="871" y="604" width="1" height="21"/>
<rect x="879" y="602" width="1" height="23"/>
<rect x="887" y="596" width="1" height="29"/>
<rect x="895" y="586" width="1" height="39"/>
<rect x="903" y="582" width="1" height="43"/>
<rect x="911" y="580" width="1" height="45"/>
<rect x="919" y="576" width="1" height="49"/>
<rect x="927" y="574" width="1" height="51"/>
<rect x="935" y="567" width="1" height="58"/>
<rect x="943" y="563" width="1" height="62"/>
<rect x="951" y="560" width="1" height="65"/>
<rect x="959" y="558" width="1" height="67"/>
<rect x="967" y="559" width="1" height="66"/>
<rect x="975" y="561" width="1" height="64"/>
<rect x="983" y="570" width="1" height="55"/>
<rect x="991" y="581" width="1" height="44"/>
<rect x="999" y="588" width="1" height="37"/>
<rect x="1007" y="595" width="1" height="30"/>
<rect x="1015" y="598" width="1" height="27"/>
<rect x="1023" y="603" width="1" height="22"/>
<rect x="1031" y="608" width="1" height="17"/>
<rect x="1039" y="609" width="1" height="16"/>
<rect x="1047" y="607" width="1" height="18"/>
<rect x="1055" y="603" width="1" height="22"/>
<rect x="1063" y="599" width="1" height="26"/>
<rect x="1071" y="597" width="1" height="28"/>
<rect x="1079" y="595" width="1" height="30"/>
<rect x="1087" y="587" width="1" height="38"/>
<rect x="1095" y="581" width="1" height="44"/>
<rect x="1103" y="575" width="1" height="50"/>
<rect x="1111" y="568" width="1" height="57"/>
<rect x="1119" y="562" width="1" height="63"/>
<rect x="1127" y="557" width="1" height="68"/>
<rect x="1135" y="554" width="1" height="71"/>
<rect x="1143" y="555" width="1" height="70"/>
<rect x="1151" y="563" width="1" height="62"/>
<rect x="1159" y="571" width="1" height="54"/>
<rect x="1167" y="573" width="1" height="52"/>
<rect x="1175" y="574" width="1" height="51"/>
<rect x="1183" y="581" width="1" height="44"/>
<rect x="1191" y="586" width="1" height="39"/>
<rect x="1199" y="594" width="1" height="31"/>
<rect x="1207" y="600" width="1" height="25"/>
<rect x="1215" y="604" width="1" height="21"/>
<rect x="1223" y="609" width="1" height="16"/>
<rect x="1231" y="616" width="1" height="9"/>
<rect x="1239" y="617" width="1" height="8"/>
<rect x="1247" y="620" width="1" height="5"/>
<rect x="1255" y="621" width="1" height="4"/>
<rect x="1263" y="618" width="1" height="7"/>
<rect x="1271" y="618" width="1" height="7"/>
<rect x="1279" y="618" width="1" height="7"/>
<rect x="1287" y="616" width="1" height="9"/>
<rect x="1295" y="619" width="1" height="6"/>
<rect x="1303" y="622" width="1" height="3"/>
<rect x="1311" y="623" width="1" height="2"/>
<rect x="1319" y="624" width="1" height="2"/>
<rect x="1327" y="624" width="1" height="7"/>
<rect x="1335" y="624" width="1" height="14"/>
<rect x="1343" y="624" width="1" height="11"/>
<rect x="1351" y="624" width="1" height="6"/>
<rect x="1375" y="618" width="1" height="7"/>
<rect x="1383" y="610" width="1" height="15"/>
<rect x="1391" y="604" width="1" height="21"/>
<rect x="1399" y="602" width="1" height="23"/>
<rect x="1407" y="602" width="1" height="23"/>
<rect x="1415" y="605" width="1" height="20"/>
<rect x="1423" y="611" width="1" height="14"/>
<rect x="1431" y="618" width="1" height="7"/>
<rect x="1439" y="624" width="1" height="4"/>
<rect x="1447" y="624" width="1" height="13"/>
<rect x="1455" y="624" width="1" height="20"/>
<rect x="1463" y="624" width="1" height="27"/>
<rect x="1471" y="624" width="1" height="31"/>
<rect x="1479" y="624" width="1" height="28"/>
<rect x="1487" y="624" width="1" height="21"/>
<rect x="1495" y="624" width="1" height="13"/>
<rect x="1503" y="624" width="1" height="6"/>
<rect x="1519" y="621" width="1" height="4"/>
<rect x="1527" y="617" width="1" height="8"/>
<rect x="1535" y="618" width="1" height="7"/>
<rect x="1543" y="610" width="1" height="15"/>
<rect x="1551" y="603" width="1" height="22"/>
<rect x="1559" y="597" width="1" height="28"/>
<rect x="1567" y="592" width="1" height="33"/>
<rect x="1575" y="586" width="1" height="39"/>
<rect x="1583" y="583" width="1" height="42"/>
<rect x="1591" y="591" width="1" height="34"/>
<rect x="1599" y="597" width="1" height="28"/>
<rect x="1607" y="604" width="1" height="21"/>
<rect x="1615" y="613" width="1" height="12"/>
<rect x="1623" y="621" width="1" height="4"/>
<rect x="1631" y="624" width="1" height="7"/>
<rect x="1639" y="624" width="1" height="22"/>
<rect x="1647" y="624" width="1" height="31"/>
<rect x="1655" y="624" width="1" height="40"/>
<rect x="1663" y="624" width="1" height="46"/>
</g>
<polyline points="0.0,630.0 6.7,633.3 13.3,634.2 23.7,634.2 31.0,633.3 37.0,632.0 43.0,630.0 50.4,629.3 68.2,629.3 74.0,630.3 78.6,632.2 84.5,634.2 92.0,636.2 97.8,638.9 103.8,641.9 109.7,645.1 115.6,647.5 121.6,649.3 127.5,651.0 151.2,651.2 163.0,650.3 185.3,649.3 192.7,648.1 200.0,647.0 207.5,645.3 216.4,643.7 222.4,642.2 231.2,639.7 240.1,638.2 256.0,636.0 257.6,636.3 264.0,635.1 279.9,634.3 305.4,634.3 311.7,633.2 327.7,630.8 343.6,628.0 351.6,625.6 359.5,623.2 367.5,620.3 375.5,618.1 383.4,614.0 391.4,610.1 399.4,605.7 407.3,599.3 415.3,592.9 423.3,585.0 431.2,576.7 439.2,569.8 447.2,561.9 455.1,554.7 463.1,547.5 471.1,542.7 479.0,539.5 487.0,535.9 495.0,535.2 504.0,535.6 516.5,537.5 526.8,540.9 538.8,546.5 547.4,550.5 556.0,556.0 564.5,559.4 573.0,562.0 581.6,565.4 590.2,567.6 598.7,569.7 607.3,573.1 615.9,577.0 624.4,581.7 633.0,586.0 641.5,593.6 650.1,601.3 658.7,610.8 667.2,619.3 675.8,628.7 684.4,637.3 692.9,643.3 701.5,648.4 710.0,653.6 718.6,656.1 727.2,657.3 735.7,657.0 744.3,656.1 752.0,654.1 759.5,650.1 767.2,647.1 774.9,645.4 782.6,642.3 790.4,640.2 805.8,637.9 821.3,634.8 836.7,632.4 844.5,631.2 852.2,628.4 859.9,626.6 867.7,621.6 875.4,618.8 883.1,614.2 890.9,609.6 898.6,604.9 906.3,600.6 914.0,596.4 921.8,592.2 929.5,588.7 937.2,584.8 945.0,580.2 952.7,574.8 960.4,570.9 968.1,568.6 975.9,565.2 983.6,564.3 991.3,565.5 1000.0,567.4 1007.5,570.1 1015.2,573.2 1022.9,577.9 1030.6,583.3 1038.4,588.7 1046.1,593.3 1053.8,597.2 1061.6,599.5 1069.3,600.8 1077.0,601.1 1084.7,600.3 1092.5,598.0 1100.2,594.9 1107.9,591.0 1115.7,586.4 1123.4,581.7 1131.1,576.8 1138.9,572.5 1146.6,568.6 1154.3,565.5 1162.0,564.0 1169.8,563.5 1177.5,564.0 1185.2,566.0 1193.0,568.3 1200.7,571.7 1208.4,576.8 1216.1,582.5 1223.9,587.1 1231.6,593.0 1239.3,598.0 1248.0,602.6 1253.3,606.7 1259.3,608.5 1265.2,610.7 1271.1,613.4 1277.1,614.6 1284.5,615.6 1291.9,616.6 1299.3,617.8 1306.7,618.6 1318.6,619.3 1326.0,620.8 1334.9,623.0 1343.8,625.5 1352.7,626.7 1366.0,628.2 1377.9,627.2 1383.8,626.0 1391.2,623.0 1400.1,620.0 1407.5,616.0 1414.9,613.1 1422.3,611.1 1432.7,610.4 1444.6,611.1 1452.0,614.1 1457.9,617.5 1463.8,622.3 1471.2,626.7 1478.7,633.4 1486.1,637.8 1496.0,640.8 1503.2,642.3 1511.4,642.3 1517.0,641.1 1522.5,638.9 1529.4,636.6 1536.3,633.1 1543.2,629.0 1550.0,624.1 1557.0,618.6 1563.9,614.1 1570.8,609.7 1577.7,605.5 1584.6,602.1 1591.4,600.3 1598.3,597.0 1605.2,595.6 1614.9,595.6 1620.4,597.0 1625.9,597.9 1632.8,602.1 1639.7,607.6 1646.6,615.2 1653.5,622.1 1659.7,629.2" fill="none" stroke="#ff0000" stroke-width="1" stroke-dasharray="3,3" shape-rendering="crispEdges"/>
<g shape-rendering="crispEdges">
<line x1="0" y1="722.5" x2="1684" y2="722.5" stroke="#c0c0c0" stroke-width="1" stroke-dasharray="3,3"/>
<line x1="0" y1="778.5" x2="1684" y2="778.5" stroke="#c0c0c0" stroke-width="1" stroke-dasharray="3,3"/>
</g>
<polyline points="-1.0,755.1 7.0,742.5 15.0,742.5 23.0,742.5 31.0,746.0 39.0,748.2 47.0,757.1 55.0,763.0 63.0,766.4 71.0,764.5 79.0,760.0 87.0,753.4 95.0,756.3 103.0,752.2 111.0,757.1 119.0,759.6 127.0,755.6 135.0,754.4 143.0,750.4 151.0,766.4 159.0,751.6 167.0,751.6 175.0,751.6 183.0,755.6 191.0,752.6 199.0,751.4 207.0,749.4 215.0,749.4 223.0,750.7 231.0,755.6 239.0,752.3 247.0,753.4 255.0,755.1 263.0,754.1 271.0,751.4 279.0,754.6 287.0,763.0 295.0,743.7 303.0,748.2 311.0,748.2 319.0,747.4 327.0,744.5 335.0,746.4 343.0,744.5 351.0,738.8 359.0,738.2 367.0,735.6 375.0,734.1 383.0,730.4 391.0,725.5 399.0,710.4 407.0,710.4 415.0,711.4 423.0,710.4 431.0,715.1 439.0,714.4 447.0,713.3 455.0,711.4 463.0,711.4 471.0,710.4 479.0,709.3 487.0,712.6 495.0,723.0 503.0,724.2 511.0,726.4 519.0,735.3 527.0,733.4 535.0,726.7 543.0,735.3 551.0,732.3 559.0,727.4 567.0,726.2 575.0,721.5 583.0,718.5 591.0,734.1 599.0,757.1 607.0,754.6 615.0,758.3 623.0,760.0 631.0,755.6 639.0,766.4 647.0,763.4 655.0,771.5 663.0,770.4 671.0,770.4 679.0,773.1 687.0,768.9 695.0,760.5 703.0,757.1 711.0,753.4 719.0,754.6 727.0,752.2 735.0,755.6 743.0,753.7 751.0,747.7 759.0,747.4 767.0,751.4 775.0,751.4 783.0,759.3 791.0,765.2 799.0,750.7 807.0,749.4 815.0,747.4 823.0,744.2 831.0,739.3 839.0,742.5 847.0,741.5 855.0,728.2 863.0,731.9 871.0,735.3 879.0,735.3 887.0,725.2 895.0,717.5 903.0,729.4 911.0,728.2 919.0,726.2 927.0,724.2 935.0,718.2 943.0,721.8 951.0,718.2 959.0,722.2 967.0,725.5 975.0,728.9 983.0,747.7 991.0,754.6 999.0,751.1 1007.0,751.4 1015.0,746.7 1023.0,752.2 1031.0,753.4 1039.0,746.7 1047.0,738.2 1055.0,734.4 1063.0,732.3 1071.0,735.3 1079.0,732.3 1087.0,723.3 1095.0,721.5 1103.0,719.3 1111.0,715.3 1119.0,715.3 1127.0,713.3 1135.0,713.3 1143.0,725.9 1151.0,742.2 1159.0,746.2 1167.0,737.8 1175.0,734.4 1183.0,746.2 1191.0,747.7 1199.0,753.4 1207.0,752.2 1215.0,749.4 1223.0,755.1 1231.0,758.3 1239.0,750.4 1247.0,752.2 1255.0,752.2 1263.0,742.7 1271.0,747.4 1279.0,745.5 1287.0,742.5 1295.0,753.4 1303.0,754.4 1311.0,751.4 1319.0,760.0 1327.0,762.0 1335.0,768.2 1343.0,748.9 1351.0,743.3 1359.0,741.5 1367.0,748.2 1375.0,738.5 1383.0,734.4 1391.0,735.3 1399.0,741.2 1407.0,743.0 1415.0,747.7 1423.0,756.0 1431.0,758.3 1439.0,767.2 1447.0,769.2 1455.0,768.5 1463.0,770.4 1471.0,767.4 1479.0,752.6 1487.0,745.7 1495.0,742.5 1503.0,740.5 1511.0,739.4 1519.0,741.3 1527.0,740.3 1535.0,748.4 1543.0,734.5 1551.0,731.5 1559.0,731.3 1567.0,729.5 1575.0,726.4 1583.0,730.7 1591.0,751.5 1599.0,750.4 1607.0,755.0 1615.0,761.4 1623.0,763.1 1631.0,767.7 1639.0,778.2 1647.0,773.3 1655.0,773.3 1663.0,773.3" fill="none" stroke="#1e90ff" stroke-width="1" shape-rendering="crispEdges"/>
<g shape-rendering="crispEdges" fill="#000">
<rect x="0" y="4" width="1685" height="1"/>
<rect x="1684" y="4" width="1" height="817"/>
<rect x="0" y="521" width="1685" height="1"/>
<rect x="0" y="523" width="1685" height="1"/>
<rect x="0" y="677" width="1685" height="1"/>
<rect x="0" y="679" width="1685" height="1"/>
<rect x="0" y="820" width="1685" height="1"/>
<rect x="1685" y="23" width="2" height="1"/>
<rect x="1685" y="56" width="2" height="1"/>
<rect x="1685" y="89" width="2" height="1"/>
<rect x="1685" y="122" width="2" height="1"/>
<rect x="1685" y="155" width="2" height="1"/>
<rect x="1685" y="188" width="2" height="1"/>
<rect x="1685" y="221" width="2" height="1"/>
<rect x="1685" y="254" width="2" height="1"/>
<rect x="1685" y="287" width="2" height="1"/>
<rect x="1685" y="320" width="2" height="1"/>
<rect x="1685" y="353" width="2" height="1"/>
<rect x="1685" y="386" width="2" height="1"/>
<rect x="1685" y="419" width="2" height="1"/>
<rect x="1685" y="452" width="2" height="1"/>
<rect x="1685" y="485" width="2" height="1"/>
<rect x="1685" y="518" width="2" height="1"/>
<rect x="1685" y="624" width="2" height="1"/>
<rect x="63" y="821" width="1" height="3"/>
<rect x="127" y="821" width="1" height="3"/>
<rect x="191" y="821" width="1" height="3"/>
<rect x="255" y="821" width="1" height="3"/>
<rect x="319" y="821" width="1" height="3"/>
<rect x="383" y="821" width="1" height="3"/>
<rect x="447" y="821" width="1" height="3"/>
<rect x="511" y="821" width="1" height="3"/>
<rect x="575" y="821" width="1" height="3"/>
<rect x="639" y="821" width="1" height="3"/>
<rect x="703" y="821" width="1" height="3"/>
<rect x="767" y="821" width="1" height="3"/>
<rect x="831" y="821" width="1" height="3"/>
<rect x="895" y="821" width="1" height="3"/>
<rect x="959" y="821" width="1" height="3"/>
<rect x="1023" y="821" width="1" height="3"/>
<rect x="1087" y="821" width="1" height="3"/>
<rect x="1151" y="821" width="1" height="3"/>
<rect x="1215" y="821" width="1" height="3"/>
<rect x="1279" y="821" width="1" height="3"/>
<rect x="1343" y="821" width="1" height="3"/>
<rect x="1407" y="821" width="1" height="3"/>
<rect x="1471" y="821" width="1" height="3"/>
<rect x="1535" y="821" width="1" height="3"/>
<rect x="1599" y="821" width="1" height="3"/>
<rect x="1663" y="821" width="1" height="3"/>
</g>
<g font-family="DejaVu Sans, Liberation Sans, sans-serif" font-stretch="condensed" font-size="9.3" fill="#000">
<path d="M2,11 L9.5,11 L5.75,15 Z" fill="#000"/>
<text x="14.0" y="16" textLength="42.8" lengthAdjust="spacingAndGlyphs">USOil-,H4</text>
<text x="62.6" y="16" textLength="121.3" lengthAdjust="spacingAndGlyphs">63.350 63.370 63.270 63.330</text>
<text x="3.0" y="535.5" textLength="134.0" lengthAdjust="spacingAndGlyphs">MACD(12,26,9) -0.4737 -0.0902</text>
<text x="2.7" y="691.8" textLength="68.5" lengthAdjust="spacingAndGlyphs">RSI(14) 33.5692</text>
<text x="1689.7" y="27" textLength="28.0" lengthAdjust="spacingAndGlyphs">67.105</text>
<text x="1689.7" y="60" textLength="28.0" lengthAdjust="spacingAndGlyphs">66.460</text>
<text x="1689.7" y="93" textLength="28.0" lengthAdjust="spacingAndGlyphs">65.815</text>
<text x="1689.7" y="126" textLength="28.0" lengthAdjust="spacingAndGlyphs">65.170</text>
<text x="1689.7" y="159" textLength="28.0" lengthAdjust="spacingAndGlyphs">64.525</text>
<text x="1689.7" y="192" textLength="28.0" lengthAdjust="spacingAndGlyphs">63.880</text>
<text x="1689.7" y="225" textLength="28.0" lengthAdjust="spacingAndGlyphs">63.235</text>
<text x="1689.7" y="258" textLength="28.0" lengthAdjust="spacingAndGlyphs">62.590</text>
<text x="1689.7" y="291" textLength="28.0" lengthAdjust="spacingAndGlyphs">61.945</text>
<text x="1689.7" y="324" textLength="28.0" lengthAdjust="spacingAndGlyphs">61.285</text>
<text x="1689.7" y="357" textLength="28.0" lengthAdjust="spacingAndGlyphs">60.640</text>
<text x="1689.7" y="390" textLength="28.0" lengthAdjust="spacingAndGlyphs">59.995</text>
<text x="1689.7" y="423" textLength="28.0" lengthAdjust="spacingAndGlyphs">59.350</text>
<text x="1689.7" y="456" textLength="28.0" lengthAdjust="spacingAndGlyphs">58.705</text>
<text x="1689.7" y="489" textLength="28.0" lengthAdjust="spacingAndGlyphs">58.060</text>
<text x="1689.7" y="522" textLength="28.0" lengthAdjust="spacingAndGlyphs">57.415</text>
<text x="1687.9" y="534.5" textLength="28.2" lengthAdjust="spacingAndGlyphs">1.0444</text>
<text x="1687.9" y="627.5" textLength="18.4" lengthAdjust="spacingAndGlyphs">0.00</text>
<text x="1687.9" y="674" textLength="26.1" lengthAdjust="spacingAndGlyphs">-0.546</text>
<text x="1686.8" y="690" textLength="16.2" lengthAdjust="spacingAndGlyphs">100</text>
<text x="1686.8" y="726" textLength="10.2" lengthAdjust="spacingAndGlyphs">70</text>
<text x="1686.8" y="782" textLength="10.2" lengthAdjust="spacingAndGlyphs">30</text>
<text x="1687.5" y="817" textLength="5.6" lengthAdjust="spacingAndGlyphs">0</text>
<text x="-1.4" y="833" textLength="46.0" lengthAdjust="spacingAndGlyphs">1 Apr 2021</text>
<text x="62.6" y="833" textLength="49.0" lengthAdjust="spacingAndGlyphs">5 Apr 16:00</text>
<text x="126.6" y="833" textLength="49.0" lengthAdjust="spacingAndGlyphs">7 Apr 00:00</text>
<text x="190.6" y="833" textLength="49.0" lengthAdjust="spacingAndGlyphs">8 Apr 08:00</text>
<text x="254.6" y="833" textLength="49.0" lengthAdjust="spacingAndGlyphs">9 Apr 16:00</text>
<text x="318.1" y="833" textLength="54.0" lengthAdjust="spacingAndGlyphs">12 Apr 20:00</text>
<text x="382.1" y="833" textLength="54.0" lengthAdjust="spacingAndGlyphs">14 Apr 04:00</text>
<text x="446.1" y="833" textLength="54.0" lengthAdjust="spacingAndGlyphs">15 Apr 12:00</text>
<text x="510.1" y="833" textLength="54.0" lengthAdjust="spacingAndGlyphs">16 Apr 20:00</text>
<text x="574.1" y="833" textLength="54.0" lengthAdjust="spacingAndGlyphs">20 Apr 00:00</text>
<text x="638.1" y="833" textLength="54.0" lengthAdjust="spacingAndGlyphs">21 Apr 08:00</text>
<text x="702.1" y="833" textLength="54.0" lengthAdjust="spacingAndGlyphs">22 Apr 16:00</text>
<text x="766.1" y="833" textLength="54.0" lengthAdjust="spacingAndGlyphs">25 Apr 23:00</text>
<text x="830.1" y="833" textLength="54.0" lengthAdjust="spacingAndGlyphs">27 Apr 04:00</text>
<text x="894.1" y="833" textLength="54.0" lengthAdjust="spacingAndGlyphs">28 Apr 12:00</text>
<text x="958.1" y="833" textLength="54.0" lengthAdjust="spacingAndGlyphs">29 Apr 20:00</text>
<text x="1022.6" y="833" textLength="53.0" lengthAdjust="spacingAndGlyphs">3 May 00:00</text>
<text x="1086.6" y="833" textLength="53.0" lengthAdjust="spacingAndGlyphs">4 May 08:00</text>
<text x="1150.6" y="833" textLength="53.0" lengthAdjust="spacingAndGlyphs">5 May 16:00</text>
<text x="1214.6" y="833" textLength="53.0" lengthAdjust="spacingAndGlyphs">7 May 00:00</text>
<text x="1278.1" y="833" textLength="57.5" lengthAdjust="spacingAndGlyphs">10 May 04:00</text>
<text x="1342.1" y="833" textLength="57.5" lengthAdjust="spacingAndGlyphs">11 May 12:00</text>
<text x="1406.1" y="833" textLength="57.5" lengthAdjust="spacingAndGlyphs">12 May 20:00</text>
<text x="1470.1" y="833" textLength="57.5" lengthAdjust="spacingAndGlyphs">14 May 04:00</text>
<text x="1534.1" y="833" textLength="57.5" lengthAdjust="spacingAndGlyphs">17 May 08:00</text>
<text x="1598.1" y="833" textLength="57.5" lengthAdjust="spacingAndGlyphs">18 May 16:00</text>
<text x="1662.1" y="833" textLength="57.5" lengthAdjust="spacingAndGlyphs">19 May 22:00</text>
</g>
<rect x="1686" y="48" width="36" height="11" fill="#ff0000" shape-rendering="crispEdges"/>
<rect x="1686" y="150" width="36" height="11" fill="#32cd32" shape-rendering="crispEdges"/>
<rect x="1686" y="211" width="36" height="11" fill="#000000" shape-rendering="crispEdges"/>
<rect x="1686" y="278" width="36" height="11" fill="#4169e1" shape-rendering="crispEdges"/>
<rect x="1686" y="355" width="36" height="11" fill="#4169e1" shape-rendering="crispEdges"/>
<rect x="1686" y="457" width="36" height="11" fill="#4169e1" shape-rendering="crispEdges"/>
<g font-family="DejaVu Sans, Liberation Sans, sans-serif" font-stretch="condensed" font-size="9.3" fill="#fff">
<text x="1689.7" y="57" textLength="28.0" lengthAdjust="spacingAndGlyphs">66.500</text>
<text x="1689.7" y="159" textLength="28.0" lengthAdjust="spacingAndGlyphs">64.500</text>
<text x="1689.7" y="220" textLength="28.0" lengthAdjust="spacingAndGlyphs">63.330</text>
<text x="1689.7" y="287" textLength="28.0" lengthAdjust="spacingAndGlyphs">62.000</text>
<text x="1689.7" y="364" textLength="28.0" lengthAdjust="spacingAndGlyphs">60.500</text>
<text x="1689.7" y="466" textLength="28.0" lengthAdjust="spacingAndGlyphs">58.500</text>
</g>
<text x="1097.5" y="426.5" font-family="Liberation Sans, Noto Sans CJK SC, sans-serif" font-size="37" fill="#e91c24" textLength="249" lengthAdjust="spacingAndGlyphs">多空转折点64.5</text>
</svg>
</body></html>
